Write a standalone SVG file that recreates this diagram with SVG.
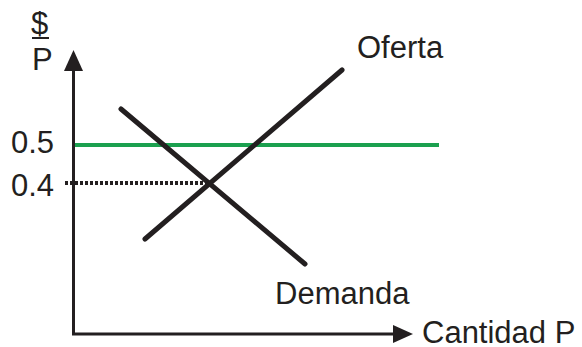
<svg xmlns="http://www.w3.org/2000/svg" width="582" height="347" viewBox="0 0 582 347">
<style>
text{font-family:"Liberation Sans",Arial,sans-serif;font-size:31px;fill:#231f20}
.ax{stroke:#231f20;stroke-width:3;fill:none}
.curve{stroke:#231f20;stroke-width:5;stroke-linecap:round;fill:none}
</style>
<rect width="582" height="347" fill="#fff"/>
<g id="connectors">
<line class="ax" x1="73.5" y1="335" x2="73.5" y2="66"/>
<polygon points="73.5,50 64,71 83,71" fill="#231f20"/>
<line class="ax" x1="72" y1="334" x2="398" y2="334"/>
<polygon points="413,334 393,325 393,343" fill="#231f20"/>
<line x1="75" y1="145" x2="439" y2="145" stroke="#1ba04f" stroke-width="4"/>
<line x1="65" y1="183" x2="208" y2="183" stroke="#231f20" stroke-width="4" stroke-dasharray="3,2"/>
<line id="demanda-line" class="curve" x1="121" y1="109" x2="305" y2="264"/>
<line id="oferta-line" class="curve" x1="145" y1="239" x2="342" y2="70"/>
</g>
<g id="ylabel">
<text x="31" y="34">$</text>
<line x1="32" y1="38" x2="49" y2="38" stroke="#231f20" stroke-width="2"/>
<text x="32" y="70">P</text>
</g>
<g id="tick05"><text x="11" y="153">0.5</text></g>
<g id="tick04"><text x="11" y="196">0.4</text></g>
<g id="oferta"><text x="357" y="58">Oferta</text></g>
<g id="demanda"><text x="275" y="304">Demanda</text></g>
<g id="xlabel"><text x="422" y="343">Cantidad P</text></g>
</svg>
